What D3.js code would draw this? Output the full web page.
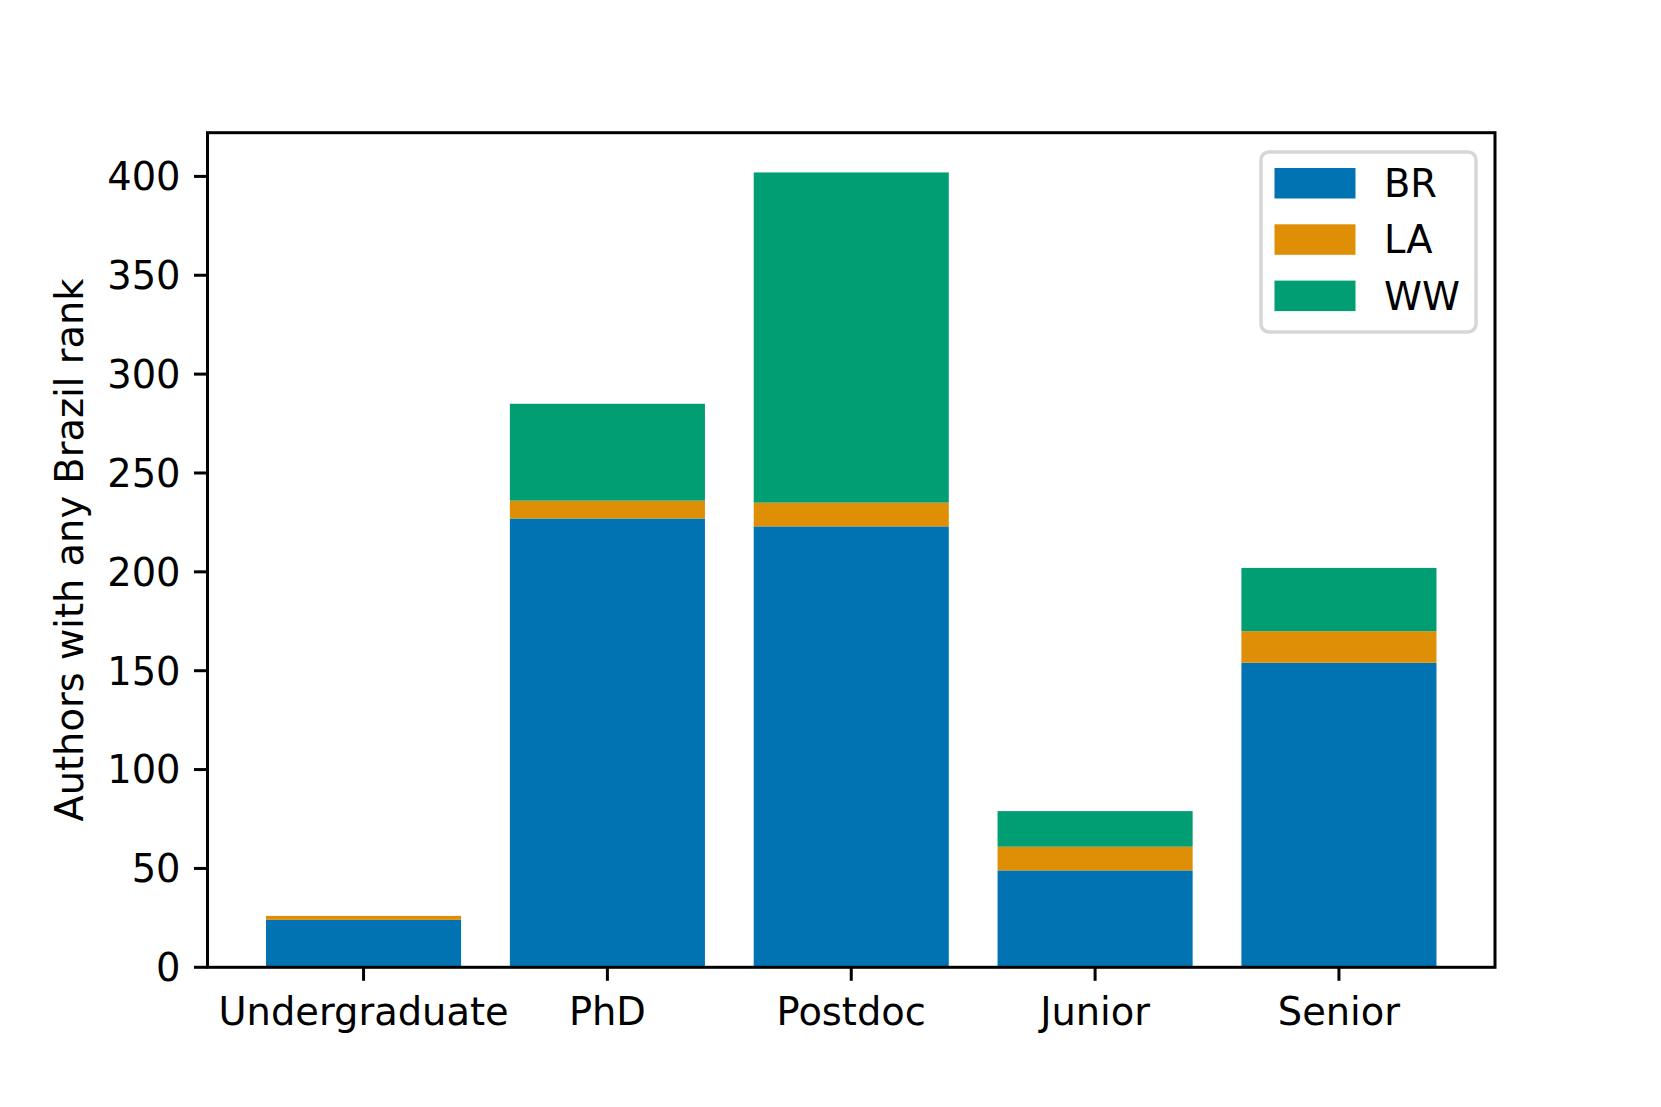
<!DOCTYPE html>
<html>
<head>
<meta charset="utf-8">
<script src="https://cdn.jsdelivr.net/npm/d3@7"></script>
<style>
  html, body { margin: 0; padding: 0; background: #ffffff; }
  svg { display: block; }
  text { font-family: "DejaVu Sans", sans-serif; fill: #000; }
</style>
</head>
<body>
<svg id="chart" width="1661" height="1107"></svg>
<script>
// ---- data ----
const categories = ["Undergraduate", "PhD", "Postdoc", "Junior", "Senior"];
const seriesNames = ["BR", "LA", "WW"];
const brValues = [24, 227, 223, 49, 154];
const laValues = [2, 9, 12, 12, 16];
const wwValues = [0, 49, 167, 18, 32];
const yTicks = [0, 50, 100, 150, 200, 250, 300, 350, 400];
const yLabel = "Authors with any Brazil rank";
const colors = ["#0173b2", "#de8f05", "#029e73"];

// ---- layout ----
const W = 1661, H = 1107;
const axLeft = 207.5, axRight = 1495, axTop = 132.7, axBottom = 967.3;
const fontSize = 38.4;

const svg = d3.select("#chart");

const rows = categories.map((c, i) => ({ cat: c, BR: brValues[i], LA: laValues[i], WW: wwValues[i] }));
const stacked = d3.stack().keys(seriesNames)(rows);

const totalMax = d3.max(rows, d => d.BR + d.LA + d.WW);
const x = d3.scaleBand().domain(categories).range([axLeft, axRight]).paddingInner(0.2).paddingOuter(0.24);
const y = d3.scaleLinear().domain([0, totalMax * 1.05]).range([axBottom, axTop]);
const color = d3.scaleOrdinal().domain(seriesNames).range(colors);

// bars
svg.append("g").selectAll("g").data(stacked).join("g")
  .attr("fill", d => color(d.key))
  .selectAll("rect").data(d => d).join("rect")
  .attr("x", d => x(d.data.cat))
  .attr("width", x.bandwidth())
  .attr("y", d => y(d[1]))
  .attr("height", d => Math.max(0, y(d[0]) - y(d[1])));

// y axis ticks
const yAxis = svg.append("g");
yTicks.forEach(t => {
  yAxis.append("line")
    .attr("x1", axLeft - 13.5).attr("x2", axLeft)
    .attr("y1", y(t)).attr("y2", y(t))
    .attr("stroke", "#000").attr("stroke-width", 3);
  yAxis.append("text")
    .attr("x", axLeft - 13.5 - 13.5)
    .attr("y", y(t))
    .attr("dy", "0.36em")
    .attr("text-anchor", "end")
    .attr("font-size", fontSize)
    .text(t);
});

// x axis ticks
const xAxis = svg.append("g");
categories.forEach(c => {
  const cx = x(c) + x.bandwidth() / 2;
  xAxis.append("line")
    .attr("x1", cx).attr("x2", cx)
    .attr("y1", axBottom).attr("y2", axBottom + 13.5)
    .attr("stroke", "#000").attr("stroke-width", 3);
  xAxis.append("text")
    .attr("x", cx)
    .attr("y", axBottom + 13.5 + 13.5)
    .attr("dy", "0.8em")
    .attr("text-anchor", "middle")
    .attr("font-size", fontSize)
    .text(c);
});

// frame
svg.append("rect")
  .attr("x", axLeft).attr("y", axTop)
  .attr("width", axRight - axLeft).attr("height", axBottom - axTop)
  .attr("fill", "none").attr("stroke", "#000").attr("stroke-width", 3);

// y label
svg.append("text")
  .attr("transform", `translate(${83},${(axTop + axBottom) / 2}) rotate(-90)`)
  .attr("text-anchor", "middle")
  .attr("font-size", fontSize)
  .text(yLabel);

// legend
const lg = svg.append("g");
lg.append("rect")
  .attr("x", 1261).attr("y", 152)
  .attr("width", 215).attr("height", 180)
  .attr("rx", 8).attr("ry", 8)
  .attr("fill", "#ffffff").attr("fill-opacity", 0.8)
  .attr("stroke", "#d6d6d6").attr("stroke-width", 3.5);
seriesNames.forEach((s, i) => {
  const yy = 168 + i * 56.3;
  lg.append("rect")
    .attr("x", 1274.5).attr("y", yy)
    .attr("width", 81).attr("height", 30.5)
    .attr("fill", color(s));
  lg.append("text")
    .attr("x", 1384).attr("y", yy + 15.3)
    .attr("dy", "0.36em")
    .attr("font-size", fontSize)
    .text(s);
});
</script>
</body>
</html>
